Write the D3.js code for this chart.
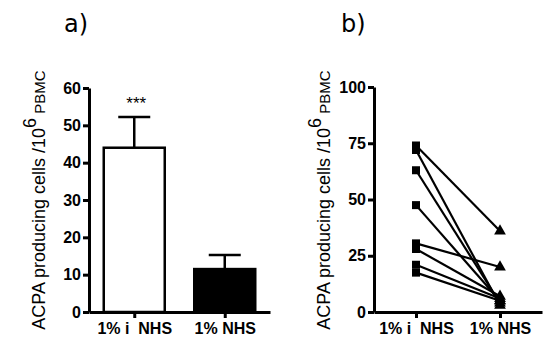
<!DOCTYPE html>
<html>
<head>
<meta charset="utf-8">
<script src="https://cdn.jsdelivr.net/npm/d3@7"></script>
<style>
  body { margin: 0; background: #fff; }
  svg text { font-family: "Liberation Sans", Arial, sans-serif; }
  .axis path, .axis line { stroke: #000; stroke-width: 3px; }
</style>
</head>
<body>
<div id="chart"></div>
<script>
// panel a) bar chart
var groups = ['1% i  NHS', '1% NHS'];
var barMeans = [44, 11.5];
var barSems = [8.2, 3.8];
var yTicksA = [0, 10, 20, 30, 40, 50, 60];

// panel b) paired values, one entry per donor
var iNHS = [74, 72, 63, 47.5, 30.5, 28, 21, 17.5];
var NHS = [36, 3, 4, 5, 20, 7, 6, 5];
var yTicksB = [0, 25, 50, 75, 100];

var svg = d3.select('#chart').append('svg')
  .attr('width', 550).attr('height', 350);

function yLabel(g, x, y) {
  var t = g.append('text')
    .attr('transform', 'translate(' + x + ',' + y + ') rotate(-90)')
    .attr('text-anchor', 'middle')
    .style('font-size', '18px')
  t.append('tspan').text('ACPA producing cells /10')
  t.append('tspan').attr('dy', -9).style('font-size', '18px').text('6')
  t.append('tspan').attr('dy', 9).style('font-size', '15px').text(' PBMC')
}

function title(txt, x) {
  svg.append('text')
    .attr('x', x).attr('y', 32)
    .style('font-family', '"DejaVu Sans", sans-serif')
    .style('font-size', '24px')
    .text(txt)
}

function styleAxis(g) {
  g.selectAll('.tick text')
    .attr('xml:space', 'preserve')
    .style('font-family', '"Liberation Sans", Arial, sans-serif')
    .style('font-weight', 'bold')
    .style('font-size', '16px')
    .style('fill', '#000')
}

/* ---------- a) ---------- */
var ga = svg.append('g');
var xa = d3.scalePoint().domain(groups).range([89, 270]).padding(0.5);
var ya = d3.scaleLinear().domain([0, 60]).range([312, 88]);
var barW = 61;

ga.selectAll('rect.bar').data(groups).enter().append('rect')
  .attr('class', 'bar')
  .attr('x', function(d){ return xa(d) - barW / 2 })
  .attr('y', function(d, i){ return ya(barMeans[i]) })
  .attr('width', barW)
  .attr('height', function(d, i){ return ya(0) - ya(barMeans[i]) })
  .style('fill', function(d, i){ return i == 0 ? '#fff' : '#000' })
  .style('stroke', '#000')
  .style('stroke-width', 2.5);

// error bars (upper only)
ga.selectAll('line.whisker').data(groups).enter().append('line')
  .attr('x1', function(d){ return xa(d) }).attr('x2', function(d){ return xa(d) })
  .attr('y1', function(d, i){ return ya(barMeans[i]) })
  .attr('y2', function(d, i){ return ya(barMeans[i] + barSems[i]) })
  .style('stroke', '#000').style('stroke-width', 2.5);
ga.selectAll('line.cap').data(groups).enter().append('line')
  .attr('x1', function(d){ return xa(d) - 16 }).attr('x2', function(d){ return xa(d) + 16 })
  .attr('y1', function(d, i){ return ya(barMeans[i] + barSems[i]) })
  .attr('y2', function(d, i){ return ya(barMeans[i] + barSems[i]) })
  .style('stroke', '#000').style('stroke-width', 2.5);

ga.append('text')
  .attr('x', xa(groups[0]) + 2).attr('y', ya(barMeans[0] + barSems[0]) - 8)
  .attr('text-anchor', 'middle')
  .style('font-size', '17px')
  .text('***');

ga.append('g').attr('class', 'axis')
  .attr('transform', 'translate(89,0)')
  .call(d3.axisLeft(ya).tickValues(yTicksA).tickSize(6).tickSizeOuter(0).tickPadding(2))
  .call(styleAxis);
ga.append('g').attr('class', 'axis')
  .attr('transform', 'translate(0,312)')
  .call(d3.axisBottom(xa).tickSize(6).tickSizeOuter(0).tickPadding(5))
  .call(styleAxis);

yLabel(ga, 45, 200);
title('a)', 64);

/* ---------- b) ---------- */
var gb = svg.append('g');
var xb = d3.scalePoint().domain(groups).range([374, 542]).padding(0.5);
var yb = d3.scaleLinear().domain([0, 100]).range([312, 87]);

gb.selectAll('line.pair').data(iNHS).enter().append('line')
  .attr('x1', xb(groups[0])).attr('x2', xb(groups[1]))
  .attr('y1', function(d){ return yb(d) })
  .attr('y2', function(d, i){ return yb(NHS[i]) })
  .style('stroke', '#000').style('stroke-width', 2.2);

gb.selectAll('rect.sq').data(iNHS).enter().append('rect')
  .attr('x', xb(groups[0]) - 4)
  .attr('y', function(d){ return yb(d) - 4 })
  .attr('width', 8).attr('height', 8)
  .style('fill', '#000');

var tri = d3.symbol().type(d3.symbolTriangle).size(60);
gb.selectAll('path.tri').data(NHS).enter().append('path')
  .attr('d', tri)
  .attr('transform', function(d){ return 'translate(' + xb(groups[1]) + ',' + yb(d) + ')' })
  .style('fill', '#000');

gb.append('g').attr('class', 'axis')
  .attr('transform', 'translate(374,0)')
  .call(d3.axisLeft(yb).tickValues(yTicksB).tickSize(6).tickSizeOuter(0).tickPadding(2))
  .call(styleAxis);
gb.append('g').attr('class', 'axis')
  .attr('transform', 'translate(0,312)')
  .call(d3.axisBottom(xb).tickSize(6).tickSizeOuter(0).tickPadding(5))
  .call(styleAxis);

yLabel(gb, 330, 200);
title('b)', 341);
</script>
</body>
</html>
